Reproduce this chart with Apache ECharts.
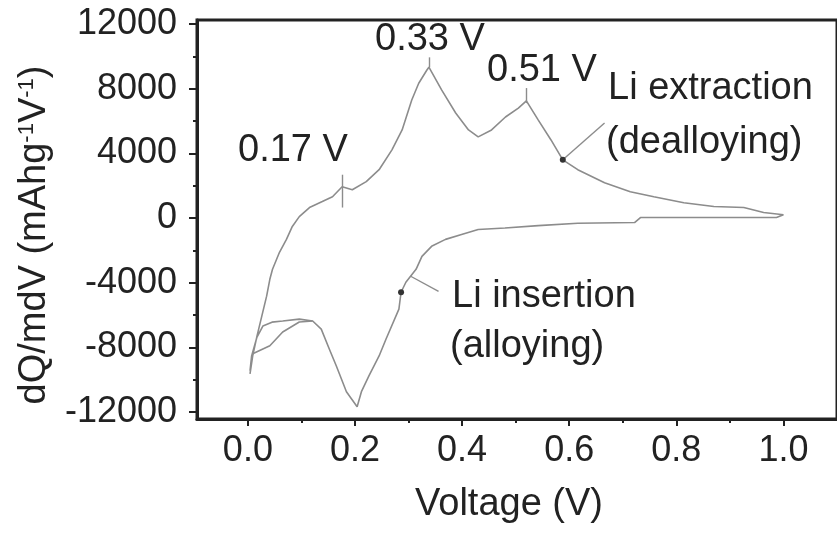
<!DOCTYPE html>
<html>
<head>
<meta charset="utf-8">
<script src="https://cdn.jsdelivr.net/npm/echarts@6/dist/echarts.min.js"></script>
<style>
  html, body { margin: 0; padding: 0; background: #fff; }
  #main { width: 837px; height: 533px; }
</style>
</head>
<body>
<div id="main"></div>
<script>
// charge branch (Li extraction), 0 V -> 1 V
var upV = [0.004, 0.009, 0.017, 0.026, 0.035, 0.041, 0.046, 0.059, 0.072, 0.083, 0.096, 0.115, 0.139, 0.158, 0.176,
           0.195, 0.221, 0.245, 0.269, 0.288, 0.306, 0.319, 0.334, 0.338, 0.362, 0.388, 0.412, 0.430, 0.455, 0.481,
           0.505, 0.520, 0.542, 0.566, 0.588, 0.616, 0.666, 0.714, 0.758, 0.814, 0.870, 0.926, 0.963, 1.000];
var upQ = [-9640, -8530, -7300, -6070, -4830, -3790, -3170, -2120, -1320, -520, 90, 650, 1020, 1320, 1940,
           1750, 2250, 2990, 4220, 5450, 7300, 8340, 9140, 9330, 7910, 6500, 5450, 5020, 5450, 6250,
           6800, 7250, 6070, 4830, 3600, 2990, 2180, 1630, 1320, 950, 710, 650, 340, 200];
// discharge branch (Li insertion), 1 V -> 0 V
var downV = [0.987, 0.913, 0.733, 0.722, 0.616, 0.542, 0.480, 0.430, 0.399, 0.369, 0.343, 0.325, 0.314, 0.295,
             0.286, 0.282, 0.258, 0.245, 0.226, 0.212, 0.204, 0.184, 0.165, 0.152, 0.137, 0.121, 0.096, 0.065,
             0.045, 0.028, 0.017, 0.007, 0.004];
var downQ = [30, 30, 30, -280, -320, -470, -620, -710, -1020, -1320, -1750, -2370, -3170, -3970,
             -4590, -5630, -7480, -8530, -9760, -10740, -11670, -10740, -9140, -8100, -6870, -6370, -6250, -6370,
             -6440, -6680, -7360, -8530, -9450];
// second cycle, low-voltage part
var cyc2V = [0.009, 0.041, 0.065, 0.096, 0.121];
var cyc2Q = [-8400, -7900, -7050, -6430, -6370];

var xTicks = [0, 0.2, 0.4, 0.6, 0.8, 1.0];
var xMinor = [0.1, 0.3, 0.5, 0.7, 0.9];
var yTicks = [-12000, -8000, -4000, 0, 4000, 8000, 12000];
var yMinor = [-10000, -6000, -2000, 2000, 6000, 10000];

var peaks = [
  {v: 0.176, from: 650, to: 2680},
  {v: 0.338, from: 9330, to: 9940},
  {v: 0.520, from: 7110, to: 8040}
];

function pairs(xs, ys) {
  return xs.map(function (x, i) { return [x, ys[i]]; });
}

var ink = '#222';
var curve = '#8c8c8c';
var font = 'Liberation Sans, Arial, sans-serif';

var loop = pairs(upV, upQ).concat(pairs(downV, downQ));

var chart = echarts.init(document.getElementById('main'));
var option = {
  animation: false,
  backgroundColor: '#fff',
  grid: {
    left: 197, top: 20, right: -4, bottom: 114,
    show: true, borderColor: ink, borderWidth: 3
  },
  xAxis: [{
    type: 'value', min: -0.095, max: 1.1,
    axisLine: {onZero: false, lineStyle: {color: ink, width: 3}},
    axisTick: {customValues: xTicks, length: 7, lineStyle: {color: ink, width: 2}},
    axisLabel: {customValues: xTicks, color: ink, fontSize: 36, fontFamily: font, margin: 14,
      formatter: function (v) { return v.toFixed(1); }},
    splitLine: {show: false}
  }, {
    type: 'value', min: -0.095, max: 1.1, position: 'bottom',
    axisLine: {show: false, onZero: false},
    axisTick: {customValues: xMinor, length: 4, lineStyle: {color: ink, width: 2}},
    axisLabel: {show: false},
    splitLine: {show: false}
  }],
  yAxis: [{
    type: 'value', min: -12430, max: 12250,
    axisLine: {onZero: false, lineStyle: {color: ink, width: 3}},
    axisTick: {customValues: yTicks, length: 8, lineStyle: {color: ink, width: 2}},
    axisLabel: {customValues: yTicks, color: ink, fontSize: 36, fontFamily: font, margin: 20,
      formatter: function (v) { return String(v); }},
    splitLine: {show: false}
  }, {
    type: 'value', min: -12430, max: 12250, position: 'left',
    axisLine: {show: false, onZero: false},
    axisTick: {customValues: yMinor, length: 4, lineStyle: {color: ink, width: 2}},
    axisLabel: {show: false},
    splitLine: {show: false}
  }],
  graphic: [
    {type: 'text', x: 35, y: 235, rotation: Math.PI / 2,
      style: {text: 'dQ/mdV (mAhg{sup|-1}V{sup|-1})', font: '38px ' + font, fill: ink,
        align: 'center', verticalAlign: 'middle',
        rich: {sup: {fontSize: 22, fontFamily: font, fill: ink, verticalAlign: 'top', padding: [0, 0, 14, 0]}}}},
    {type: 'text', x: 509, y: 505,
      style: {text: 'Voltage (V)', font: '38px ' + font, fill: ink, align: 'center', verticalAlign: 'middle'}},
    {type: 'text', x: 238, y: 151,
      style: {text: '0.17 V', font: '38px ' + font, fill: ink, verticalAlign: 'middle'}},
    {type: 'text', x: 375, y: 40,
      style: {text: '0.33 V', font: '38px ' + font, fill: ink, verticalAlign: 'middle'}},
    {type: 'text', x: 487, y: 71,
      style: {text: '0.51 V', font: '38px ' + font, fill: ink, verticalAlign: 'middle'}},
    {type: 'text', x: 608, y: 89,
      style: {text: 'Li extraction', font: '38px ' + font, fill: ink, verticalAlign: 'middle'}},
    {type: 'text', x: 606, y: 143,
      style: {text: '(dealloying)', font: '38px ' + font, fill: ink, verticalAlign: 'middle'}},
    {type: 'text', x: 452, y: 297,
      style: {text: 'Li insertion', font: '38px ' + font, fill: ink, verticalAlign: 'middle'}},
    {type: 'text', x: 450, y: 347,
      style: {text: '(alloying)', font: '38px ' + font, fill: ink, verticalAlign: 'middle'}}
  ],
  series: [{
    type: 'line', name: 'cycle 1', data: loop,
    showSymbol: false, smooth: false,
    lineStyle: {color: curve, width: 1.6},
    markLine: {
      silent: true, symbol: 'none', label: {show: false},
      lineStyle: {color: curve, width: 1.4, type: 'solid'},
      data: peaks.map(function (p) {
        return [{coord: [p.v, p.from]}, {coord: [p.v, p.to]}];
      }).concat([
        [{coord: [0.588, 3600]}, {coord: [0.666, 5880]}],
        [{coord: [0.304, -3600]}, {coord: [0.356, -4530]}]
      ])
    },
    markPoint: {
      silent: true, symbol: 'circle', symbolSize: 6, label: {show: false},
      itemStyle: {color: '#333'},
      data: [{coord: [0.588, 3600]}, {coord: [0.286, -4590]}]
    }
  }, {
    type: 'line', name: 'cycle 2', data: pairs(cyc2V, cyc2Q),
    showSymbol: false, smooth: false,
    lineStyle: {color: curve, width: 1.6}
  }]
};
chart.setOption(option);
</script>
</body>
</html>
